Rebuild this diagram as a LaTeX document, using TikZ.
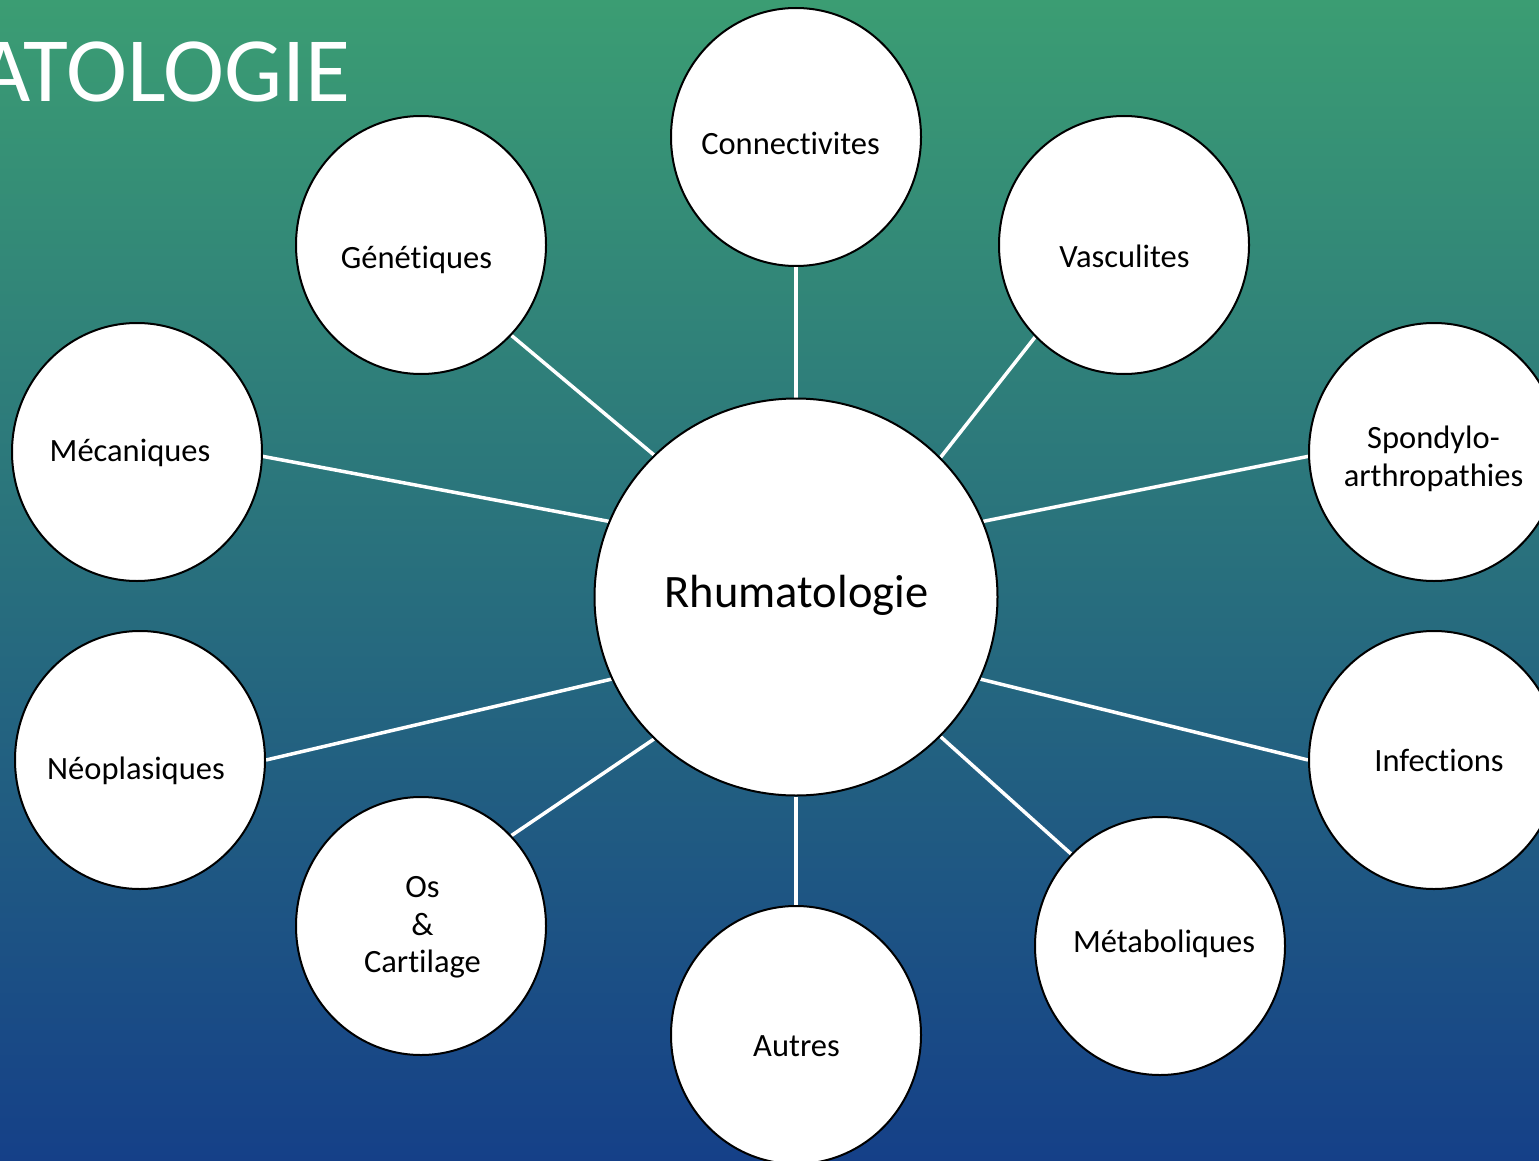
\documentclass[tikz,border=0pt]{standalone}
\usepackage{fontspec}
\setmainfont{Carlito}[Ligatures=NoCommon]
\usetikzlibrary{shapes.geometric}
\pgfdeclarelayer{bg}
\pgfsetlayers{bg,main}
\definecolor{bgtop}{RGB}{59,157,115}
\definecolor{bgmid}{RGB}{40,124,140}
\definecolor{bgbot}{RGB}{21,64,136}
\begin{document}
\begin{tikzpicture}[x=1pt,y=-1pt,
  bubble/.style={ellipse, draw=black, line width=2pt, fill=white,
    minimum width=250pt, minimum height=258pt, inner sep=0pt},
  bigbubble/.style={bubble, minimum width=403pt, minimum height=397pt},
  lbl/.style={font=\fontsize{32.5}{37.5}\selectfont, text=black,
    inner sep=0pt, text height=21pt, text depth=0pt, anchor=center},
  mlbl/.style={font=\fontsize{32.5}{37.5}\selectfont, text=black,
    inner sep=0pt, align=center, anchor=center},
  biglbl/.style={font=\fontsize{46.5}{52}\selectfont, text=black,
    inner sep=0pt, text height=30pt, text depth=0pt, anchor=center},
  conn/.style={draw=white, line width=3.5pt}]
\useasboundingbox (0,0) rectangle (1539,1161);
\begin{pgfonlayer}{bg}
  \shade[top color=bgtop, middle color=bgmid, bottom color=bgbot]
    (0,0) rectangle (1539,1161);
\end{pgfonlayer}
\clip (0,0) rectangle (1539,1161);
% title
\node[font=\fontsize{92}{100}\selectfont, text=white, inner sep=0pt,
  anchor=base east] (title) at (351,102) {ATOLOGIE};
% circles
\node[bigbubble] (rh)  at (796,597) {};
\node[bubble] (con) at (796,137) {};
\node[bubble] (gen) at (421,245) {};
\node[bubble] (vas) at (1124,245) {};
\node[bubble] (mec) at (137,452) {};
\node[bubble] (spo) at (1434,452) {};
\node[bubble] (neo) at (140,760) {};
\node[bubble] (inf) at (1434,760) {};
\node[bubble] (os)  at (421,926) {};
\node[bubble] (aut) at (796,1035) {};
\node[bubble] (met) at (1160,946) {};
% labels
\node[biglbl] (trh)  at (796.5,592.5) {Rhumatologie};
\node[lbl] (tcon) at (790.5,144) {Connectivites};
\node[lbl] (tgen) at (416.5,258) {Génétiques};
\node[lbl] (tvas) at (1124.5,257) {Vasculites};
\node[lbl] (tmec) at (130,451) {Mécaniques};
\node[mlbl] (tspo) at (1433.5,459) {Spondylo-\\arthropathies};
\node[mlbl] (tos)  at (422.5,927.5) {Os\\\&\\Cartilage};
\node[lbl] (tneo) at (136,769) {Néoplasiques};
\node[lbl] (tinf) at (1439,761) {Infections};
\node[lbl] (taut) at (796.5,1046) {Autres};
\node[lbl] (tmet) at (1164,942) {Métaboliques};
% connectors
\begin{pgfonlayer}{bg}
  \draw[conn] (con.south) -- (rh.north);
  \draw[conn] (gen.-45) -- (rh.135);
  \draw[conn] (vas.226) -- (rh.44);
  \draw[conn] (mec.-2) -- (rh.158);
  \draw[conn] (spo.182) -- (rh.22);
  \draw[conn] (neo.0) -- (rh.204);
  \draw[conn] (inf.180) -- (rh.-24);
  \draw[conn] (os.45) -- (rh.225);
  \draw[conn] (aut.north) -- (rh.south);
  \draw[conn] (met.134) -- (rh.-44);
\end{pgfonlayer}
\end{tikzpicture}
\end{document}
